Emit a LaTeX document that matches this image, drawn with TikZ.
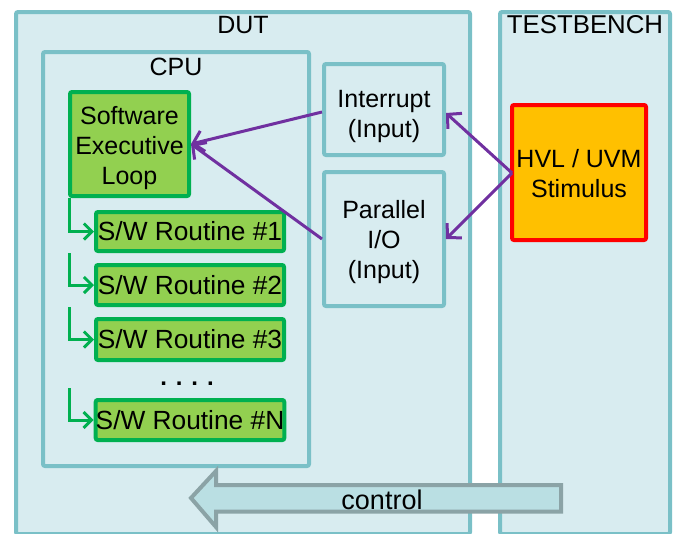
\documentclass[tikz,border=0pt]{standalone}
\usepackage{fontspec}
\setmainfont{Liberation Sans}
\usetikzlibrary{arrows.meta}

\definecolor{tealline}{RGB}{122,192,199}
\definecolor{tealfill}{RGB}{216,236,240}
\definecolor{grnline}{RGB}{0,176,80}
\definecolor{grnfill}{RGB}{146,208,80}
\definecolor{purp}{RGB}{112,48,160}
\definecolor{amber}{RGB}{255,192,0}
\definecolor{ctrlfill}{RGB}{186,223,227}
\definecolor{ctrlline}{RGB}{139,163,166}

\tikzset{
  txt/.style={font=\fontsize{25}{30}\selectfont, text=black, inner sep=0pt, align=center},
  bigtxt/.style={txt, font=\fontsize{26.3}{30}\selectfont},
  block/.style={txt, draw=tealline, fill=tealfill, line width=4pt, rounded corners=2pt},
  swbox/.style={txt, draw=grnline, fill=grnfill, line width=4pt, rounded corners=2pt},
  routine/.style={swbox, bigtxt, minimum width=188pt},
  stimbox/.style={txt, draw=red, fill=amber, line width=4pt, rounded corners=2pt},
  sig/.style={draw=purp, line width=3pt, -{Straight Barb[length=10pt,width=21pt,line width=3pt]}},
  flow/.style={draw=grnline, line width=3pt, -{Straight Barb[length=8pt,width=16pt,line width=3pt]}},
  ctrl/.style={draw=ctrlline, fill=ctrlfill, line width=4pt, line join=miter},
}

\begin{document}
\begin{tikzpicture}[x=1pt, y=-1pt]
\useasboundingbox (0,0) rectangle (680,533);
\clip (0,0) rectangle (680,533);

% outer partitions
\node[block, minimum width=454pt, minimum height=522pt] (dut) at (243,273) {};
\node[txt] (dutlbl) at (243,25) {DUT};
\node[block, minimum width=170pt, minimum height=522pt] (tb) at (585,273) {};
\node[txt, font=\fontsize{25.8}{30}\selectfont] (tblbl) at (585,25) {TESTBENCH};

% processor
\node[block, minimum width=266pt, minimum height=414pt] (cpu) at (176,259) {};
\node[txt] (cpulbl) at (176,67) {CPU};

% inputs
\node[block, minimum width=120pt, minimum height=91pt] (irq) at (384,109.5) {};
\node[txt] (irqtxt) at (384,116) {Interrupt\\(Input)};
\node[block, minimum width=120pt, minimum height=134pt] (pio) at (384,239) {};
\node[txt] (piotxt) at (384,242) {Parallel\\I/O\\(Input)};

% software
\node[swbox, minimum width=119pt, minimum height=104pt] (sel) at (129.5,144) {};
\node[txt] (seltxt) at (129.5,148) {Software\\Executive\\Loop};
\node[routine, minimum height=39pt] (r1) at (190,231.5) {S/W Routine \#1};
\node[routine, minimum height=40pt] (r2) at (190,285) {S/W Routine \#2};
\node[routine, minimum height=41pt] (r3) at (190,339.5) {S/W Routine \#3};
\node[txt, font=\fontsize{24}{30}\selectfont\bfseries, anchor=base] (dots) at (187,385) {. . . .};
\node[routine, minimum height=40pt] (rn) at (190,420) {S/W Routine \#N};

% stimulus
\node[stimbox, minimum width=134pt, minimum height=135pt] (hvl) at (579,172.5) {};
\node[txt] (hvltxt) at (579,174) {HVL / UVM\\Stimulus};

% routine dispatch
\coordinate (gapn) at (69,388);
\draw[flow] ([xshift=1pt]sel.south west) |- (r1.west);
\draw[flow] ([xshift=-25pt]r1.south west) |- (r2.west);
\draw[flow] ([xshift=-25pt]r2.south west) |- (r3.west);
\draw[flow] (gapn) |- (rn.west);

% stimulus paths
\coordinate (hvlport) at (512,173);
\draw[sig] (hvlport) -- ([yshift=-3.5pt]irq.east);
\draw[sig] (hvlport) -- (pio.east);
\draw[sig] ([yshift=-2.5pt]irq.west) -- (sel.east);
\draw[sig] (pio.west) -- (sel.east);

% control arrow
\draw[ctrl] (561,485) -- (216,485) -- (216,471) -- (191,498) -- (216,527) -- (216,511.5) -- (561,511.5) -- cycle;
\node[txt, font=\fontsize{27}{30}\selectfont] (ctrllbl) at (382,500) {control};
\end{tikzpicture}
\end{document}
